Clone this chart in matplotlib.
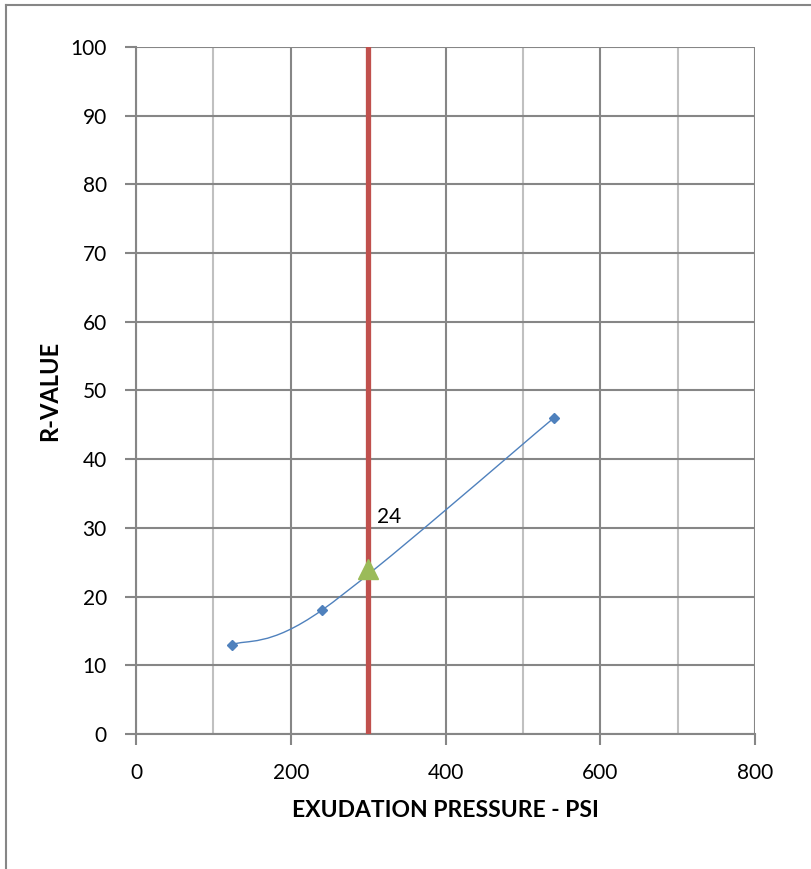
import numpy as np
import matplotlib
matplotlib.use("Agg")
import matplotlib.pyplot as plt
from matplotlib.path import Path
from matplotlib.patches import PathPatch
from matplotlib.lines import Line2D

plt.rcParams['font.family'] = ['Lato', 'DejaVu Sans']

# test data
pressure = [124, 240, 540]
r_value = [13, 18, 46]
design_pressure = 300
design_r = 24

x_ticks = [0, 200, 400, 600, 800]
y_ticks = list(range(0, 101, 10))

BLUE = '#4F81BD'
RED = '#C0504D'
GREEN = '#9BBB59'
DARK = '#868686'
LIGHT = '#C0C0C0'

fig = plt.figure(figsize=(8.12, 8.69), dpi=100)
ax = fig.add_axes([0.1675, 0.1554, 0.7623, 0.7905])

# gridlines: major every 200 (dark), minor every 100 (light)
ax.set_xlim(0, 800)
ax.set_ylim(0, 100)
ax.set_xticks(x_ticks)
ax.set_xticks([100, 300, 500, 700], minor=True)
ax.set_yticks(y_ticks)
ax.grid(True, which='major', color=DARK, linewidth=1.5)
ax.grid(True, which='minor', axis='x', color=LIGHT, linewidth=1.5)
ax.tick_params(which='minor', length=0)
ax.tick_params(which='major', length=8, width=1.5, color=DARK,
               labelsize=15)
ax.tick_params(axis='y', pad=13)
ax.tick_params(axis='x', pad=13)
for side in ['top', 'right']:
    ax.spines[side].set_visible(False)
for side in ['left', 'bottom']:
    ax.spines[side].set_color(DARK)
    ax.spines[side].set_linewidth(1.5)
ax.set_axisbelow(True)

# smoothed line (Excel-like cubic Bezier through the points)
pts = np.column_stack([pressure, r_value]).astype(float)
n = len(pts)
verts = [tuple(pts[0])]
codes = [Path.MOVETO]
for i in range(n - 1):
    p_prev = pts[i - 1] if i > 0 else pts[i]
    p_next = pts[i + 2] if i + 2 < n else pts[i + 1]
    c1 = pts[i] + (pts[i + 1] - p_prev) / 6.0
    c2 = pts[i + 1] - (p_next - pts[i]) / 6.0
    verts += [tuple(c1), tuple(c2), tuple(pts[i + 1])]
    codes += [Path.CURVE4] * 3
ax.add_patch(PathPatch(Path(verts, codes), facecolor='none',
                       edgecolor=BLUE, linewidth=1.0, zorder=3))
ax.plot(pressure, r_value, linestyle='none', marker='D', markersize=5.5,
        color=BLUE, zorder=4)

ax.axvline(design_pressure, color=RED, linewidth=3.8, zorder=5)
ax.plot([design_pressure], [design_r], marker='^', markersize=15,
        color=GREEN, linestyle='none', zorder=6)
ax.annotate(str(design_r), (design_pressure, design_r),
            xytext=(9, 52), textcoords='offset pixels',
            fontsize=15, ha='left', va='center', zorder=7)

ax.set_xlabel('EXUDATION PRESSURE - PSI', fontsize=16.5,
              fontweight='bold', labelpad=12)
ax.set_ylabel('R-VALUE', fontsize=17, fontweight='bold', labelpad=7)

# chart frame (top and left edges)
fig.add_artist(Line2D([6 / 812, 1], [1 - 5 / 869, 1 - 5 / 869],
                      transform=fig.transFigure, color=DARK, linewidth=1.5))
fig.add_artist(Line2D([6 / 812, 6 / 812], [0, 1 - 5 / 869],
                      transform=fig.transFigure, color=DARK, linewidth=1.5))

fig.savefig('out.png', dpi=100)
